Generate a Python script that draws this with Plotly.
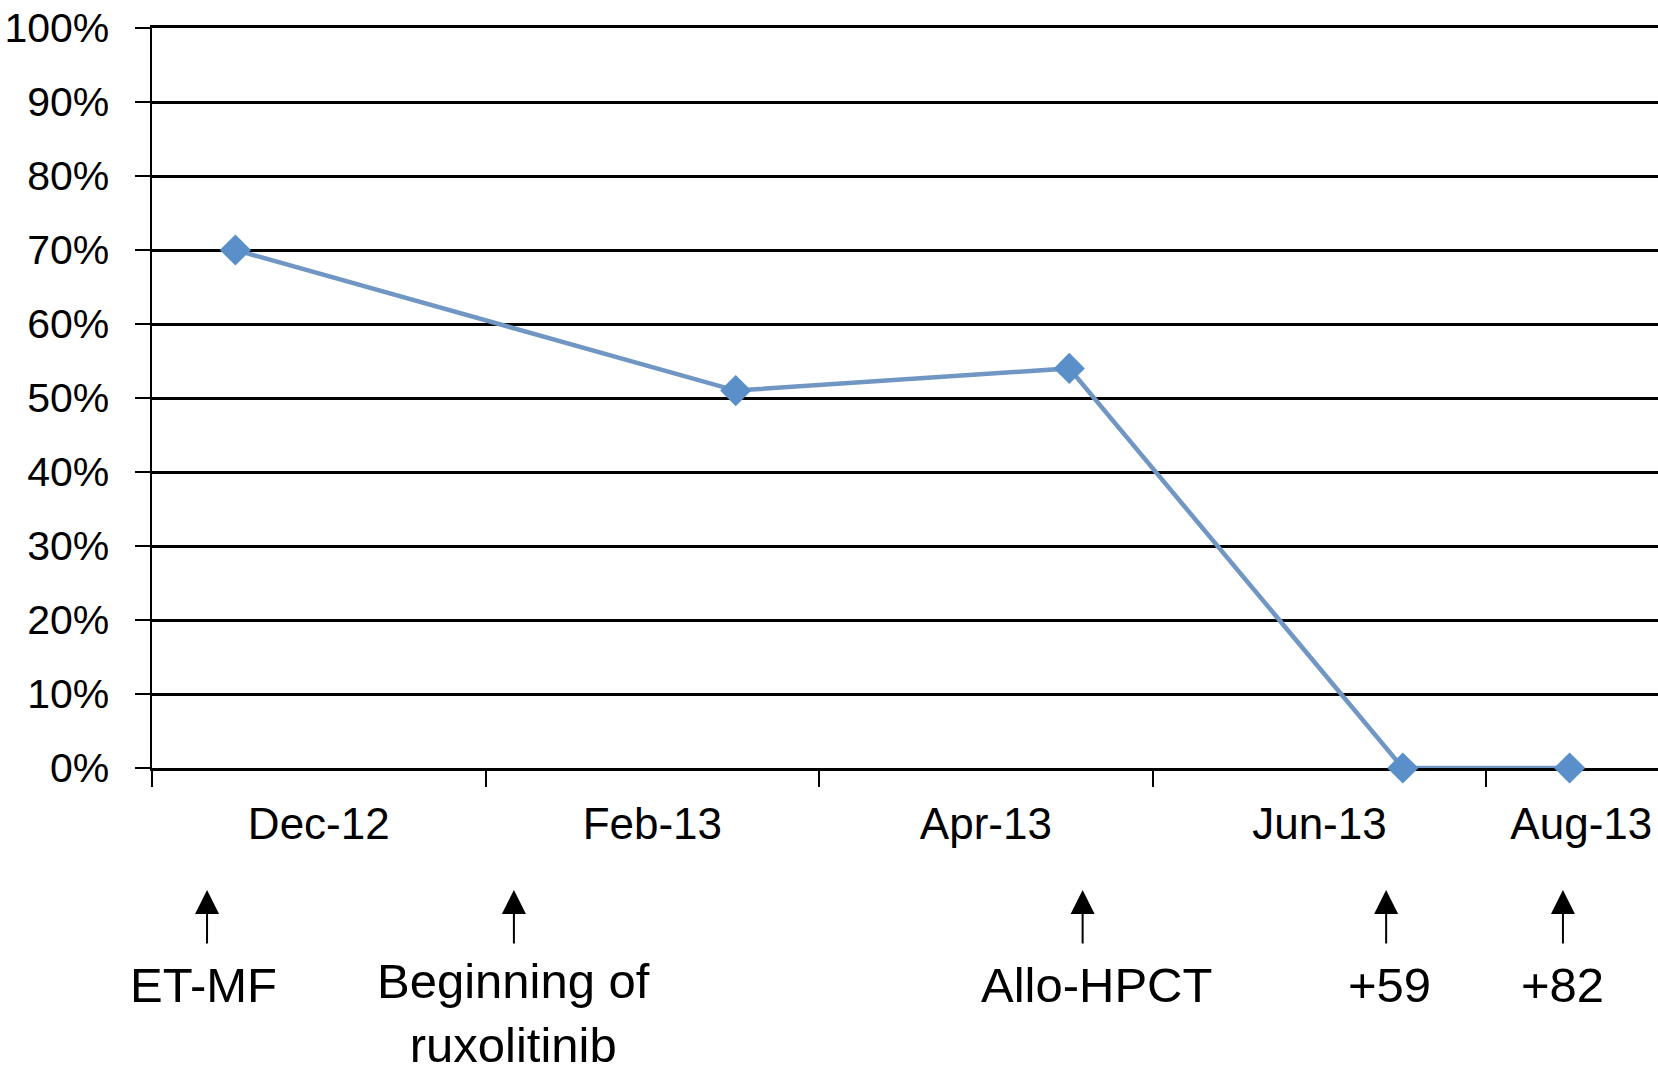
import plotly.graph_objects as go

# ---- data ----
month_axis = ["Dec-12", "Jan-13", "Feb-13", "Mar-13", "Apr-13", "May-13",
              "Jun-13", "Jul-13", "Aug-13", "Sep-13"]
sample_months = ["Dec-12", "Mar-13", "May-13", "Jul-13", "Aug-13"]
values_pct = [70, 51, 54, 0, 0]

tick_labels = ["Dec-12", "Feb-13", "Apr-13", "Jun-13", "Aug-13"]
event_labels = ["ET-MF", "Beginning of<br>ruxolitinib", "Allo-HPCT", "+59", "+82"]

# ---- layout helpers (positions, not data) ----
W, H = 1658, 1089
M_L, M_R, M_T, M_B = 152, 0, 28, 321
PLOT_H = H - M_T - M_B
X_MAX = 9.03

def month_center(m):
    return month_axis.index(m) + 0.5

def py(p):  # pixel y -> paper y
    return (H - M_B - p) / PLOT_H

xs = [month_center(m) for m in sample_months]

event_x = [0.33, 2.17, 5.58, 7.40, 8.46]
event_text_shift = [-4, 0, 14, 3, 0]
event_text_y = [985, 1013, 985, 985, 985]

FONT = "Liberation Sans, Arial, Helvetica, sans-serif"

fig = go.Figure()
fig.add_trace(go.Scatter(
    x=xs, y=values_pct, mode="lines+markers",
    line=dict(color="#7096C3", width=4.5),
    marker=dict(symbol="diamond", size=24, color="#5A8FCA", line=dict(width=0)),
    cliponaxis=False, showlegend=False, hoverinfo="skip",
))

annotations = []
for lab, ex, sh, ty in zip(event_labels, event_x, event_text_shift, event_text_y):
    annotations.append(dict(
        x=ex, xref="x", y=py(890), yref="paper", text="",
        showarrow=True, ax=0, ay=55, axref="pixel", ayref="pixel",
        arrowhead=2, arrowsize=2.4, arrowwidth=2, arrowcolor="black",
    ))
    annotations.append(dict(
        x=ex, xref="x", y=py(ty), yref="paper", text=lab, xshift=sh,
        showarrow=False, xanchor="center", yanchor="middle", align="center",
        font=dict(family=FONT, size=49, color="black"),
    ))

fig.update_layout(
    width=W, height=H,
    margin=dict(l=M_L, r=M_R, t=M_T, b=M_B, pad=0, autoexpand=False),
    paper_bgcolor="white", plot_bgcolor="white",
    font=dict(family=FONT, color="black"),
    annotations=annotations,
    xaxis=dict(
        range=[0, X_MAX], showgrid=False, zeroline=False, automargin=False,
        showline=True, linecolor="black", linewidth=3, mirror=True,
        tickvals=[1, 3, 5, 7, 8.57], ticktext=tick_labels,
        ticks="", ticklabelstandoff=15, ticklabeloverflow="allow",
        tickfont=dict(family=FONT, size=44, color="black"),
        minor=dict(tickvals=[0, 2, 4, 6, 8], ticks="outside", ticklen=16,
                   tickwidth=2, tickcolor="black", showgrid=False),
        layer="below traces", fixedrange=True,
    ),
    yaxis=dict(
        range=[0, 100], tickvals=list(range(0, 101, 10)),
        ticktext=[f"{v}%" for v in range(0, 101, 10)],
        showgrid=True, gridcolor="black", gridwidth=3, zeroline=False,
        automargin=False,
        showline=True, linecolor="black", linewidth=2.5,
        ticks="outside", ticklen=15, tickwidth=2, tickcolor="black",
        ticklabelstandoff=17, ticklabeloverflow="allow",
        tickfont=dict(family=FONT, size=41, color="black"),
        fixedrange=True,
    ),
)

fig.write_html("out.html",
               config={"displayModeBar": False, "staticPlot": True},
               post_script="document.body.style.margin='0';document.body.style.overflow='hidden';")
